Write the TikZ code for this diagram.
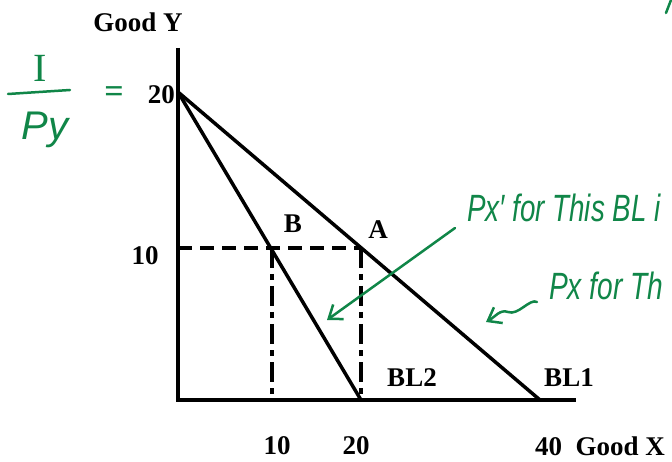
\documentclass[tikz,border=0pt]{standalone}
\usepackage{fontspec}
\setmainfont{Liberation Serif}
\newfontfamily\hand{Liberation Sans}
\usetikzlibrary{arrows.meta}
\definecolor{pen}{RGB}{16,134,72}
\begin{document}
\begin{tikzpicture}[x=1pt,y=-1pt,
  axis/.style={line width=3.5pt},
  bl/.style={line width=3.5pt},
  guide/.style={line width=3.5pt, dash pattern=on 14pt off 8pt},
  guidedd/.style={line width=3.5pt, dash pattern=on 20pt off 6pt on 6pt off 6pt},
  lbl/.style={font=\fontsize{27}{30}\selectfont\bfseries, inner sep=0pt},
  ink/.style={pen, font=\hand\itshape\fontsize{38}{40}\selectfont, inner sep=0pt},
  inkline/.style={pen, line width=2.5pt, line cap=round, line join=round},
  inkarrow/.style={inkline, -{Straight Barb[length=12pt,width=18pt,line width=2.5pt]}}
]
\useasboundingbox (0,0) rectangle (672,462);
\fill[white] (0,0) rectangle (672,462);
% key points
\coordinate (O) at (178,400);
\coordinate (Ytop) at (178,48);
\coordinate (Xend) at (576,400);
\coordinate (Y20) at (178,92);
\coordinate (Y10) at (178,248);
\coordinate (X10) at (272,400);
\coordinate (X20) at (361,400);
\coordinate (X40) at (540,400);
\coordinate (A) at (361,248);
\coordinate (B) at (272,248);
% axes and budget lines
\draw[axis] (Ytop) -- (O) -- (Xend);
\draw[bl] (Y20) -- (X40);
\draw[bl] (Y20) -- (X20);
\draw[guide] (Y10) -- (A);
\draw[guidedd] (B) -- (X10);
\draw[guidedd] (A) -- (X20);
% labels
\node[lbl] (gy) at (138,22) {Good Y};
\node[lbl, anchor=east] (l20) at (175,95) {20};
\node[lbl] (l10) at (145,256) {10};
\node[lbl] (nB) at (293,224) {B};
\node[lbl] (nA) at (378,230) {A};
\node[lbl] (nBL2) at (412,378) {BL2};
\node[lbl] (nBL1) at (569,378) {BL1};
\node[lbl] (x10) at (277,446) {10};
\node[lbl] (x20) at (356,446) {20};
\node[lbl, anchor=west] (x40) at (535,446) {40\hspace{0.5em}Good X};
% handwritten annotations
\node[pen, font=\fontsize{40}{40}\selectfont, inner sep=0pt] (hI) at (40,68) {I};
\node[ink, font=\hand\itshape\fontsize{40}{40}\selectfont] (hPy) at (45,130) {Py};
\coordinate (fl) at (8,94);
\coordinate (fr) at (70,90);
\draw[inkline] (fl) -- (fr);
\node[pen, font=\fontsize{34}{34}\selectfont\bfseries, inner sep=0pt] (heq) at (114,95) {=};
\node[ink, anchor=base west] (px1) at (467,222) {\scalebox{0.73}[1]{Px′ for This BL i}};
\node[ink, anchor=base west] (px2) at (549,300) {\scalebox{0.74}[1]{Px for Th}};
\coordinate (a1s) at ([xshift=-12pt,yshift=-6pt]px1.base west);
\coordinate (a1e) at (327,320);
\draw[inkarrow] (a1s) -- (a1e);
\coordinate (a2s) at ([xshift=-12pt,yshift=-2pt]px2.base west);
\coordinate (a2e) at (486,322);
\draw[inkarrow] (a2s) .. controls (530,298) and (518,316) .. (508,312) .. controls (500,309) and (495,317) .. (a2e);
\coordinate (tk1) at (666,13);
\coordinate (tk2) at (671,0);
\draw[inkline] (tk1) -- (tk2);
\end{tikzpicture}
\end{document}
